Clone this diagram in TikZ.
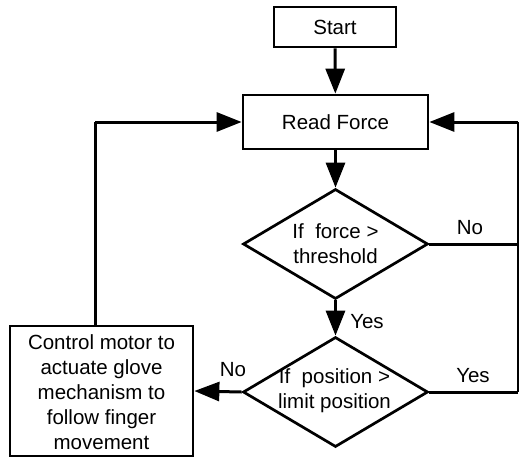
\documentclass[tikz,border=0pt]{standalone}
\usepackage{fontspec}
\setmainfont{Liberation Sans}
\usetikzlibrary{shapes.geometric,arrows.meta,calc}
\begin{document}
\begin{tikzpicture}[x=1pt,y=-1pt,
  font=\fontsize{20.5}{25}\selectfont,
  box/.style={draw,line width=2.7pt,rectangle,inner sep=0pt},
  dia/.style={draw,line width=2.7pt,diamond,inner sep=0pt,minimum width=185pt,minimum height=110pt},
  txt/.style={align=center,inner sep=0pt},
  conn/.style={line width=3pt,-{Triangle[length=25pt,width=19pt]}},
  plain/.style={line width=3pt},
  thin/.style={line width=1.5pt}
]
\useasboundingbox (0,0) rectangle (519,459);
\node[box,minimum width=122pt,minimum height=40pt] (start) at (335,27) {Start};
\node[box,minimum width=185pt,minimum height=54pt] (read) at (335.5,122) {Read Force};
\node[dia] (d1) at (335.5,244) {};
\node[txt] (t1) at (335.5,244) {If\ \ force >\\threshold};
\node[dia] (d2) at (335.5,392) {};
\node[txt] (t2) at (334.5,391) {If\ \ position >\\limit position};
\node[box,minimum width=183pt,minimum height=130pt] (ctrl) at (101.5,391) {};
\node[txt] (t3) at (101.5,392) {Control motor to\\actuate glove\\mechanism to\\follow finger\\movement};
\coordinate (rt) at (518,122);
\coordinate (lt) at (95,122);

\draw[conn] (start) -- (read);
\draw[conn] (read) -- (d1);
\draw[conn] (d1.south) -- (d2.north);
\draw[conn] (d2.west) -- (ctrl.east);
\draw[plain] (ctrl.north -| lt) -- (lt);
\draw[conn] (lt) -- (read.west);
\draw[plain] (d1.east) -- (d1.east -| rt);
\draw[plain] (d2.east) -- (d2.east -| rt);
\draw[thin] (d2.east -| rt) -- (rt);
\draw[conn] (rt) -- (read.east);

\node[txt] (no1) at (470,228) {No};
\node[txt] (yes1) at (367,322) {Yes};
\node[txt] (no2) at (233,370) {No};
\node[txt] (yes2) at (473,376) {Yes};
\end{tikzpicture}
\end{document}
